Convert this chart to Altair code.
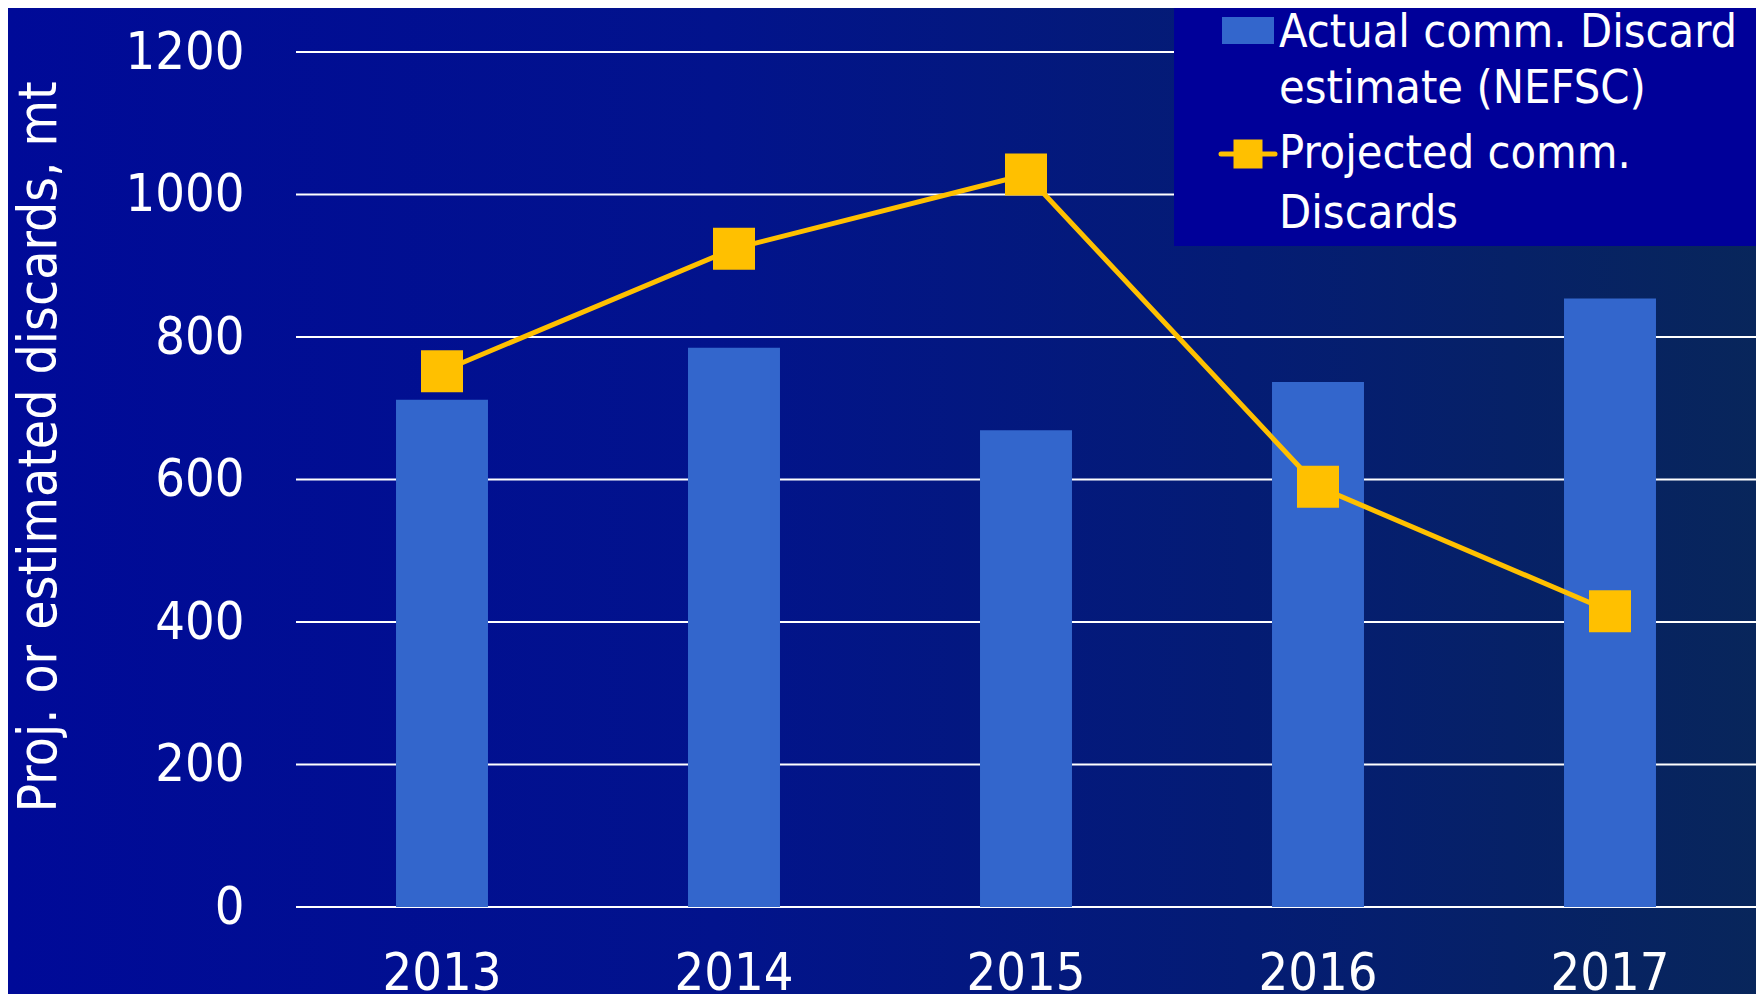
import altair as alt
import pandas as pd

years = ["2013", "2014", "2015", "2016", "2017"]
actual = [712, 785, 669, 737, 854]
projected = [752, 924, 1028, 590, 415]
y_ticks = [0, 200, 400, 600, 800, 1000, 1200]

FONT = "'DejaVu Sans Condensed', 'DejaVu Sans', sans-serif"
W, H = 1460, 855
PAD_L, PAD_T, PAD_B = 288, 44, 87

df = pd.DataFrame({"year": years, "actual": actual, "projected": projected})
grid_df = pd.DataFrame({"tick": y_ticks})
one = pd.DataFrame({"k": [0]})

xscale = alt.Scale(domain=years, paddingInner=0.685, paddingOuter=0.3425)
yscale = alt.Scale(domain=[0, 1200], nice=False)

xaxis = alt.Axis(title=None, labelAngle=0, labelFontSize=52, labelColor="white",
                 labelFont=FONT, ticks=False, domain=False, grid=False,
                 labelPadding=41, zindex=2)
yaxis = alt.Axis(title="Proj. or estimated discards, mt", values=y_ticks, format="d",
                 labelFontSize=52, labelColor="white", labelFont=FONT,
                 ticks=False, domain=False, grid=False, labelPadding=52,
                 titleFontSize=53, titleFont=FONT, titleColor="white",
                 titleFontWeight="normal", titleAngle=270,
                 titleAlign="left", titleBaseline="alphabetic",
                 titleX=-241, titleY=760, zindex=2)

bg = alt.Chart(one).mark_rect(
    fill={"gradient": "linear", "x1": 0, "x2": 1, "y1": 0, "y2": 0,
          "stops": [{"offset": 0, "color": "#000A98"},
                    {"offset": 0.4, "color": "#02138C"},
                    {"offset": 0.7, "color": "#041C74"},
                    {"offset": 1, "color": "#08265A"}]}
).encode(x=alt.value(-PAD_L), x2=alt.value(W + 20),
         y=alt.value(-PAD_T), y2=alt.value(H + PAD_B))

grid = alt.Chart(grid_df).mark_rule(color="white", strokeWidth=2).encode(
    y=alt.Y("tick:Q", scale=yscale, axis=yaxis))

bars = alt.Chart(df).mark_bar(color="#3366CC").encode(
    x=alt.X("year:N", scale=xscale, sort=years, axis=xaxis),
    y=alt.Y("actual:Q", scale=yscale, axis=yaxis))

line = alt.Chart(df).mark_line(color="#FFC000", strokeWidth=5).encode(
    x=alt.X("year:N", scale=xscale, sort=years, axis=xaxis),
    y=alt.Y("projected:Q", scale=yscale, axis=yaxis))

pts = alt.Chart(df).mark_point(shape="square", filled=True, size=1764,
                               color="#FFC000", opacity=1).encode(
    x=alt.X("year:N", scale=xscale, sort=years, axis=xaxis),
    y=alt.Y("projected:Q", scale=yscale, axis=yaxis))

leg_box = alt.Chart(one).mark_rect(color="#000099").encode(
    x=alt.value(878), x2=alt.value(W + 20), y=alt.value(-PAD_T), y2=alt.value(194))

leg_bar = alt.Chart(one).mark_rect(color="#3366CC").encode(
    x=alt.value(926), x2=alt.value(978), y=alt.value(-35), y2=alt.value(-8))

leg_line = alt.Chart(one).mark_rule(color="#FFC000", strokeWidth=5, strokeCap="round").encode(
    x=alt.value(925), x2=alt.value(979), y=alt.value(102))

leg_pt = alt.Chart(one).mark_point(shape="square", filled=True, size=841,
                                   color="#FFC000", opacity=1).encode(
    x=alt.value(952), y=alt.value(102))

leg_t1 = alt.Chart(one).mark_text(align="left", baseline="alphabetic", fontSize=46.5,
                                  font=FONT, color="white", lineBreak="\n",
                                  lineHeight=56).encode(
    x=alt.value(983), y=alt.value(-5),
    text=alt.value("Actual comm. Discard\nestimate (NEFSC)"))

leg_t2 = alt.Chart(one).mark_text(align="left", baseline="alphabetic", fontSize=46.5,
                                  font=FONT, color="white", lineBreak="\n",
                                  lineHeight=60).encode(
    x=alt.value(983), y=alt.value(116),
    text=alt.value("Projected comm.\nDiscards"))

chart = alt.layer(bg, grid, bars, line, pts, leg_box, leg_bar, leg_line, leg_pt,
                  leg_t1, leg_t2).properties(
    width=W, height=H,
    autosize=alt.AutoSizeParams(type="none"),
    padding={"left": PAD_L, "top": PAD_T, "right": 0, "bottom": PAD_B},
    background="#041A78",
).configure_view(stroke=None).configure(font=FONT)

chart.save("out.html", embed_options={"renderer": "svg", "actions": False})
